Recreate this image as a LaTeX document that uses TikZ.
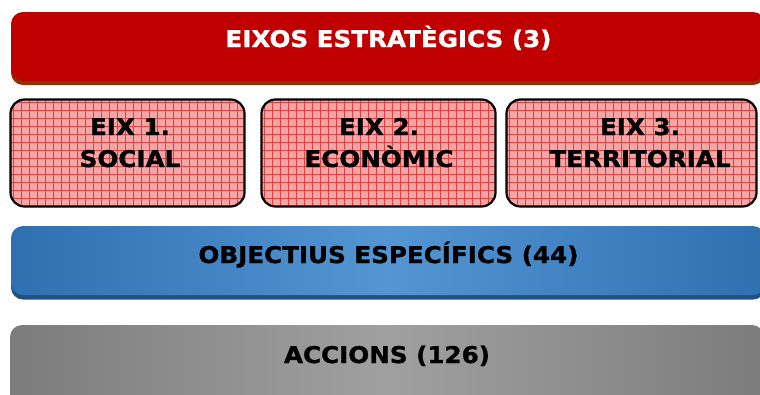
\documentclass[tikz,border=0pt]{standalone}
\usepackage{fontspec}
\setmainfont{DejaVu Sans}[FakeStretch=1.07, BoldFeatures={FakeBold=1.2}]
\definecolor{barred}{RGB}{192,0,0}
\definecolor{barbrown}{RGB}{128,58,10}
\definecolor{pinkfill}{RGB}{244,166,166}
\definecolor{gridred}{RGB}{226,64,64}
\definecolor{blueD}{RGB}{46,112,176}
\definecolor{blueL}{RGB}{84,150,212}
\definecolor{blueS}{RGB}{34,80,128}
\definecolor{grayD}{RGB}{124,124,124}
\definecolor{grayL}{RGB}{160,160,160}
\begin{document}
\begin{tikzpicture}[x=1pt,y=-1pt,
  bigtxt/.style={font=\bfseries\fontsize{23}{25}\selectfont, inner sep=0pt, anchor=base},
  bar/.style={rounded corners=12pt, minimum width=754pt, minimum height=69pt, inner sep=0pt, draw=none},
  eixbox/.style={draw=black, line width=2.2pt, rounded corners=14pt, minimum height=107pt, inner sep=0pt, fill=pinkfill,
    path picture={
      \foreach \i in {0,...,40}{
        \draw[gridred, line width=0.7pt] ([xshift=\i*8pt+3pt]path picture bounding box.north west) -- ([xshift=\i*8pt+3pt]path picture bounding box.south west);
        \draw[gridred, line width=0.7pt] ([yshift=-\i*8pt-3pt]path picture bounding box.north west) -- ([yshift=-\i*8pt-3pt]path picture bounding box.north east);
      }}}
]
\useasboundingbox (0,0) rectangle (760,394);
\fill[white] (0,0) rectangle (760,394);

% top red bar
\node[bar, fill=barbrown] (redshadow) at (388,50.5) {};
\node[bar, fill=barred] (redbar) at (388,46.5) {};
\node[bigtxt, text=white] (redtxt) at (388.5,47) {EIXOS ESTRATÈGICS (3)};

% eix boxes
\node[eixbox, minimum width=234pt] (e1) at (127.5,153) {};
\node[eixbox, minimum width=234pt] (e2) at (378.5,153) {};
\node[eixbox, minimum width=250pt] (e3) at (631.5,153) {};
\node[bigtxt] (e1a) at (130,135) {EIX 1.};
\node[bigtxt] (e1b) at (130,167) {SOCIAL};
\node[bigtxt] (e2a) at (379,135) {EIX 2.};
\node[bigtxt] (e2b) at (379,167) {ECONÒMIC};
\node[bigtxt] (e3a) at (640,135) {EIX 3.};
\node[bigtxt] (e3b) at (640,167) {TERRITORIAL};

% blue bar
\node[bar, fill=blueS] (blueshadow) at (388,265) {};
\node[bar, left color=blueD, right color=blueD, middle color=blueL] (bluebar) at (388,260.5) {};
\node[bigtxt] (bluetxt) at (388.5,263) {OBJECTIUS ESPECÍFICS (44)};

% gray bar
\node[bar, minimum height=90pt, left color=grayD, right color=grayD, middle color=grayL] (graybar) at (387,370) {};
\node[bigtxt] (graytxt) at (387,363) {ACCIONS (126)};
\end{tikzpicture}
\end{document}
